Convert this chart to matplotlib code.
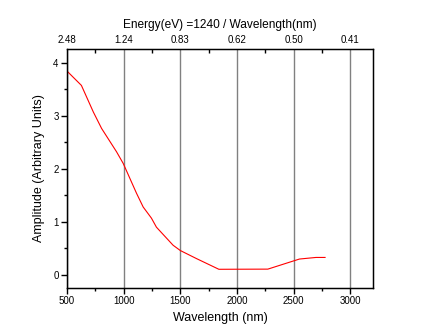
import numpy as np
from matplotlib import pyplot as plt

plt.rcParams['font.family'] = ['Liberation Sans', 'DejaVu Sans']

# data
wavelength = [500, 627, 732, 805, 937, 996, 1113, 1172, 1245, 1289, 1436, 1500,
              1641, 1840, 2272, 2507, 2551, 2697, 2777]
amplitude = [3.84, 3.57, 3.07, 2.76, 2.32, 2.10, 1.54, 1.28, 1.07, 0.90, 0.56, 0.46,
             0.31, 0.107, 0.11, 0.27, 0.30, 0.33, 0.33]

x_ticks = [500, 1000, 1500, 2000, 2500, 3000]
energy_labels = ['%.2f' % (1240 / w) for w in x_ticks]

fig = plt.figure(figsize=(4.36, 3.32), dpi=100)
ax = fig.add_axes([0.1537, 0.1334, 0.7018, 0.7181])

ax.plot(wavelength, amplitude, color='red', lw=0.8)
ax.set_xlim(500, 3200)
ax.set_ylim(-0.24, 4.25)

ax.set_xticks(x_ticks)
ax.set_xticks(np.arange(750, 3200, 500), minor=True)
ax.set_yticks([0, 1, 2, 3, 4])
ax.set_yticks(np.arange(0.5, 4.2, 1.0), minor=True)
ax.tick_params(which='major', direction='out', length=4, width=1, labelsize=7, pad=2)
ax.tick_params(which='minor', direction='out', length=2.5, width=1)
ax.grid(axis='x', color='#808080', lw=1)

for s in ax.spines.values():
    s.set_linewidth(1.0)

ax.set_xlabel('Wavelength (nm)', fontsize=9, labelpad=4)
ax.set_ylabel('Amplitude (Arbitrary Units)', fontsize=9, labelpad=6)

top = ax.twiny()
top.set_xlim(ax.get_xlim())
top.set_xticks(x_ticks)
top.set_xticklabels(energy_labels)
top.set_xticks(np.arange(750, 3200, 500), minor=True)
top.tick_params(which='major', direction='in', length=0, labelsize=7, pad=3)
top.tick_params(which='minor', direction='in', length=3, width=1)
top.set_xlabel('Energy(eV) =1240 / Wavelength(nm)', fontsize=8.6, labelpad=5)

fig.savefig('out.png', dpi=100)
